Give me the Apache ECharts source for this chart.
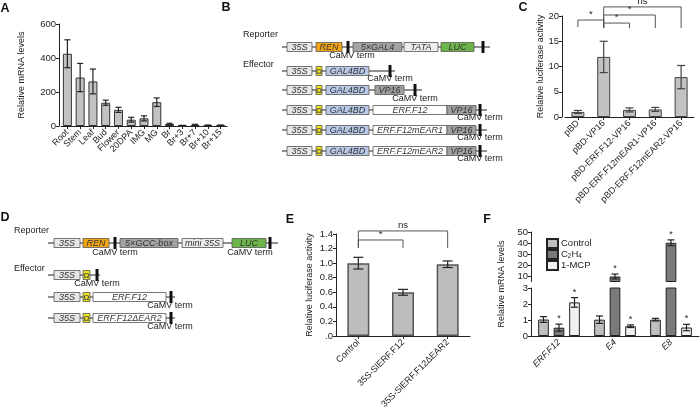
<!DOCTYPE html>
<html><head><meta charset="utf-8">
<script src="https://cdn.jsdelivr.net/npm/echarts@6/dist/echarts.min.js"></script>
<style>html,body{margin:0;padding:0;background:#fff}#c{width:700px;height:413px}</style>
</head><body><div id="c"></div>
<script>
// ---------- Panel A data ----------
const aCats = ['Root','Stem','Leaf','Bud','Flower','20DPA','IMG','MG','Br','Br+3','Br+7','Br+10','Br+15'];
const aVals = [425, 285, 262, 137, 95, 37, 45, 140, 12, 3, 7, 4, 4];
const aErr  = [82, 83, 73, 15, 15, 14, 15, 25, 4, 1, 3, 2, 2];
// ---------- Panel C data ----------
const cCats = ['pBD','pBD-VP16','pBD-ERF.F12-VP16','pBD-ERF.F12mEAR1-VP16','pBD-ERF.F12mEAR2-VP16'];
const cVals = [1.0, 11.9, 1.4, 1.5, 7.9];
const cErr  = [0.3, 3.1, 0.4, 0.4, 2.3];
const cSigPairs = [[0,1,19.2,17.8],[1,2,18.6,17.6],[1,3,20.2,17.6],[1,4,21.8,17.6]];
const cSigLabels = ['*','*','*','ns'];
// ---------- Panel E data ----------
const eCats = ['Control','35S-SlERF.F12','35S-SlERF.F12\u0394EAR2'];
const eVals = [1.0, 0.6, 0.985];
const eErr  = [0.08, 0.04, 0.045];
const eSigPairs = [[0,2,1.442,1.208],[0,1,1.318,1.208]];
const eSigLabels = ['ns','*'];
// ---------- Panel F data ----------
const fCats = ['ERF.F12','E4','E8'];
const fSeries = ['Control','C2H4','1-MCP'];
const fControl = [1.03, 1.02, 1.02];
const fControlErr = [0.18, 0.23, 0.08];
const fC2H4 = [0.52, 10.0, 40.3];
const fC2H4Err = [0.22, 2.2, 2.6];
const fMCP = [2.1, 0.61, 0.53];
const fMCPErr = [0.3, 0.08, 0.2];
const fStar = [[0,0,0],[1,1,1],[1,1,1]];

// ---------- styles ----------
const FONT = 'Liberation Sans, Arial, sans-serif';
const TXT = '#222';
const TICK_FS = 9.5;

function yAxisBase(gridIndex, extra) {
  return Object.assign({
    type: 'value', gridIndex,
    axisLine: {show: true, lineStyle: {color: '#222', width: 1}},
    axisTick: {show: true, length: 3, lineStyle: {color: '#222'}},
    axisLabel: {fontSize: TICK_FS, color: TXT, fontFamily: FONT, margin: 3},
    splitLine: {show: false},
    nameTextStyle: {fontSize: 9, color: TXT, fontFamily: FONT}
  }, extra);
}
function xAxisBase(gridIndex, data, extra) {
  return Object.assign({
    type: 'category', gridIndex, data,
    axisLine: {show: true, lineStyle: {color: '#222', width: 1}},
    axisTick: {show: true, length: 3, alignWithLabel: true, lineStyle: {color: '#222'}},
    axisLabel: {fontSize: 9, color: TXT, fontFamily: FONT, rotate: 45, margin: 5, interval: 0},
    splitLine: {show: false}
  }, extra);
}

function errSeries(xi, yi, vals, errs, off, cap, color, stars, keep) {
  const data = [];
  vals.forEach((v, i) => { if (!keep || keep(v)) data.push([i, v, errs[i], stars ? stars[i] : 0]); });
  return {
    type: 'custom', xAxisIndex: xi, yAxisIndex: yi, data, z: 10, silent: true, clip: false,
    renderItem: (params, api) => {
      const i = api.value(0), v = api.value(1), e = api.value(2), s = api.value(3);
      const x = api.coord([i, v])[0] + off;
      const t = api.coord([i, v + e])[1], b = api.coord([i, v - e])[1];
      const ls = {stroke: color, lineWidth: 1.2};
      const ch = [
        {type: 'line', shape: {x1: x, y1: t, x2: x, y2: b}, style: ls},
        {type: 'line', shape: {x1: x - cap, y1: t, x2: x + cap, y2: t}, style: ls},
        {type: 'line', shape: {x1: x - cap, y1: b, x2: x + cap, y2: b}, style: ls}
      ];
      if (s) ch.push({type: 'text', style: {text: '*', x: x, y: t - 1, fill: TXT, fontSize: 9, fontFamily: FONT, align: 'center', verticalAlign: 'bottom'}});
      return {type: 'group', children: ch};
    }
  };
}

function sigSeries(xi, yi, pairs, labels, color) {
  return {
    type: 'custom', xAxisIndex: xi, yAxisIndex: yi, data: pairs, z: 10, silent: true, clip: false,
    renderItem: (params, api) => {
      const p1 = api.coord([api.value(0), api.value(2)]);
      const p2 = api.coord([api.value(1), api.value(2)]);
      const yl = api.coord([api.value(0), api.value(3)])[1];
      return {type: 'group', children: [
        {type: 'polyline', shape: {points: [[p1[0], yl], [p1[0], p1[1]], [p2[0], p1[1]], [p2[0], yl]]}, style: {stroke: color, lineWidth: 1, fill: null}},
        {type: 'text', style: {text: labels[params.dataIndex], x: (p1[0] + p2[0]) / 2, y: p1[1] - 0.5, fill: TXT, fontSize: 9.5, fontFamily: FONT, align: 'center', verticalAlign: 'bottom'}}
      ]};
    }
  };
}

// ---------- Diagram layouts (schematic construct drawings) ----------
const COL = {p35s: '#e6e6e6', ren: '#f3a514', gal4: '#a3a3a3', tata: '#ececec', luc: '#6db54a', bd: '#b8c9e7', vp16: '#a0a0a0', erf: '#ffffff', omega: '#efe41a', gcc: '#a3a3a3', mini: '#ececec'};
const diagB = {
  labels: [['Reporter', 243, 35], ['Effector', 243, 65]],
  rows: [
    {y: 47, line: [282, 490], boxes: [['35S',287,312,'p35s'],['REN',316,342,'ren'],['5\u00d7GAL4',353,402,'gal4'],['TATA',404,438,'tata'],['LUC',441,474,'luc']], terms: [348, 483], notes: [[352, 56]]},
    {y: 71, line: [282, 395], boxes: [['35S',287,312,'p35s'],['\u03a9',316,322,'omega'],['GAL4BD',326,369,'bd']], terms: [390], notes: [[390, 79]]},
    {y: 90, line: [282, 422], boxes: [['35S',287,312,'p35s'],['\u03a9',316,322,'omega'],['GAL4BD',326,369,'bd'],['VP16',375,404,'vp16']], terms: [415], notes: [[415, 99]]},
    {y: 110, line: [282, 487], boxes: [['35S',287,312,'p35s'],['\u03a9',316,322,'omega'],['GAL4BD',326,369,'bd'],['ERF.F12',373,447,'erf'],['VP16',447,476,'vp16']], terms: [480], notes: [[480, 118]]},
    {y: 130, line: [282, 487], boxes: [['35S',287,312,'p35s'],['\u03a9',316,322,'omega'],['GAL4BD',326,369,'bd'],['ERF.F12mEAR1',373,447,'erf'],['VP16',447,476,'vp16']], terms: [480], notes: [[480, 138]]},
    {y: 151, line: [282, 487], boxes: [['35S',287,312,'p35s'],['\u03a9',316,322,'omega'],['GAL4BD',326,369,'bd'],['ERF.F12mEAR2',373,447,'erf'],['VP16',447,476,'vp16']], terms: [480], notes: [[480, 159]]}
  ]
};
const diagD = {
  labels: [['Reporter', 14, 231], ['Effector', 14, 269]],
  rows: [
    {y: 243, line: [48, 278], boxes: [['35S',54,80,'p35s'],['REN',83,109,'ren'],['5\u00d7GCC-box',120,178,'gcc'],['mini 35S',182,223,'mini'],['LUC',232,266,'luc']], terms: [115, 270], notes: [[115, 253], [250, 253]]},
    {y: 275, line: [48, 100], boxes: [['35S',54,80,'p35s'],['\u03a9',83,90,'omega']], terms: [97], notes: [[97, 284]]},
    {y: 297, line: [48, 175], boxes: [['35S',54,80,'p35s'],['\u03a9',83,90,'omega'],['ERF.F12',93,166,'erf']], terms: [171], notes: [[170, 306]]},
    {y: 318, line: [48, 175], boxes: [['35S',54,80,'p35s'],['\u03a9',83,90,'omega'],['ERF.F12\u0394EAR2',93,166,'erf']], terms: [171], notes: [[170, 327]]}
  ]
};
function diagramElements(d) {
  const els = [];
  d.labels.forEach(l => els.push({type: 'text', style: {text: l[0], x: l[1], y: l[2], fill: TXT, fontSize: 9, fontFamily: FONT, align: 'left', verticalAlign: 'middle'}}));
  d.rows.forEach(r => {
    els.push({type: 'line', shape: {x1: r.line[0], y1: r.y, x2: r.line[1], y2: r.y}, style: {stroke: '#222', lineWidth: 1}});
    r.boxes.forEach(b => {
      const om = b[3] === 'omega';
      els.push({type: 'rect', shape: {x: b[1], y: r.y - 4.5, width: b[2] - b[1], height: 9}, style: {fill: COL[b[3]], stroke: '#555', lineWidth: 0.8}});
      els.push({type: 'text', style: {text: b[0], x: (b[1] + b[2]) / 2, y: r.y + 0.5, fill: om ? '#555' : '#333', fontSize: om ? 8 : 9, fontWeight: om ? 'bold' : 'normal', fontStyle: om ? 'normal' : 'italic', fontFamily: FONT, align: 'center', verticalAlign: 'middle'}});
    });
    r.terms.forEach(t => els.push({type: 'rect', shape: {x: t - 1.5, y: r.y - 6, width: 3, height: 12}, style: {fill: '#111'}}));
    r.notes.forEach(n => els.push({type: 'text', style: {text: 'CaMV term', x: n[0], y: n[1], fill: TXT, fontSize: 9, fontFamily: FONT, align: 'center', verticalAlign: 'middle'}}));
  });
  return els;
}
const panelLetters = [['A', 5, 9], ['B', 226, 8], ['C', 523, 8], ['D', 5, 218], ['E', 290, 220], ['F', 487, 220]];

const graphics = [].concat(diagramElements(diagB), diagramElements(diagD));
panelLetters.forEach(p => graphics.push({type: 'text', style: {text: p[0], x: p[1], y: p[2], fill: '#111', fontSize: 12.5, fontWeight: 'bold', fontFamily: FONT, align: 'center', verticalAlign: 'middle'}}));
graphics.push({type: 'text', rotation: Math.PI / 2, x: 502, y: 284, style: {text: 'Relative mRNA levels', x: 0, y: 0, fill: TXT, fontSize: 9, fontFamily: FONT, align: 'center', verticalAlign: 'middle'}});

const fColors = ['#bfbfbf', '#7a7a7a', '#f0f0f0'];
const fVals = [fControl, fC2H4, fMCP];
const fErrs = [fControlErr, fC2H4Err, fMCPErr];
const fOff = [-15.5, 0, 15.5];

const series = [
  // A
  {type: 'bar', xAxisIndex: 0, yAxisIndex: 0, data: aVals, barWidth: 9, itemStyle: {color: '#c2c2c2', borderColor: '#333', borderWidth: 1}, silent: true},
  errSeries(0, 0, aVals, aErr, 0, 3, '#222'),
  // C
  {type: 'bar', xAxisIndex: 1, yAxisIndex: 1, data: cVals, barWidth: 13, itemStyle: {color: '#c2c2c2', borderColor: '#444', borderWidth: 1}, silent: true},
  errSeries(1, 1, cVals, cErr, 0, 4, '#444'),
  sigSeries(1, 1, cSigPairs, cSigLabels, '#555'),
  // E
  {type: 'bar', xAxisIndex: 2, yAxisIndex: 2, data: eVals, barWidth: 22, itemStyle: {color: '#bdbdbd', borderColor: '#555', borderWidth: 1.5}, silent: true},
  errSeries(2, 2, eVals, eErr, 0, 5, '#222'),
  sigSeries(2, 2, eSigPairs, eSigLabels, '#555')
];
// F: lower (0-3) and upper (broken) grids
fSeries.forEach((name, k) => {
  series.push({type: 'bar', name, xAxisIndex: 4, yAxisIndex: 4, data: fVals[k], barWidth: 10.7, barGap: '45%', itemStyle: {color: fColors[k], borderColor: '#222', borderWidth: 1}, silent: true});
  series.push({type: 'bar', name, xAxisIndex: 3, yAxisIndex: 3, data: fVals[k].map(v => v > 3 ? v : '-'), barWidth: 10.7, barGap: '45%', itemStyle: {color: fColors[k], borderColor: '#222', borderWidth: 1}, silent: true});
  series.push(errSeries(4, 4, fVals[k], fErrs[k], fOff[k], 3.5, '#222', fStar[k], v => v <= 3));
  series.push(errSeries(3, 3, fVals[k], fErrs[k], fOff[k], 3.5, '#222', fStar[k], v => v > 3));
});

const option = {
  animation: false,
  backgroundColor: '#fff',
  textStyle: {fontFamily: FONT},
  grid: [
    {left: 61, top: 24, width: 166, height: 102},
    {left: 565, top: 16, width: 129, height: 101},
    {left: 336, top: 234, width: 134, height: 102},
    {left: 531, top: 232, width: 168, height: 49.5},
    {left: 531, top: 288, width: 168, height: 48}
  ],
  xAxis: [
    xAxisBase(0, aCats),
    xAxisBase(1, cCats),
    xAxisBase(2, eCats),
    xAxisBase(3, fCats, {show: false}),
    xAxisBase(4, fCats, {axisTick: {show: false}, axisLabel: {fontSize: 9, color: TXT, fontFamily: FONT, rotate: 45, margin: 5, interval: 0, fontStyle: 'italic'}})
  ],
  yAxis: [
    yAxisBase(0, {min: 0, max: 600, interval: 200, offset: 2, name: 'Relative mRNA levels', nameLocation: 'middle', nameGap: 33}),
    yAxisBase(1, {min: 0, max: 20, interval: 5, offset: 3, name: 'Relative luciferase activity', nameLocation: 'middle', nameGap: 9}),
    yAxisBase(2, {min: 0, max: 1.4, interval: 0.2, name: 'Relative luciferase activity', nameLocation: 'middle', nameGap: 22,
      axisLabel: {fontSize: TICK_FS, color: TXT, fontFamily: FONT, margin: 3, formatter: v => v === 0 ? '.0' : v.toFixed(1)}}),
    yAxisBase(3, {min: 5.5, max: 50, axisLabel: {fontSize: TICK_FS, color: TXT, fontFamily: FONT, margin: 3, customValues: [10, 20, 30, 40, 50]}, axisTick: {show: true, length: 3, customValues: [10, 20, 30, 40, 50], lineStyle: {color: '#222'}}}),
    yAxisBase(4, {min: 0, max: 3, interval: 1})
  ],
  legend: {
    data: fSeries, orient: 'vertical', left: 546, top: 238, padding: 0, itemWidth: 11, itemHeight: 9, itemGap: 0,
    icon: 'rect', selectedMode: false,
    textStyle: {fontSize: 9.5, lineHeight: 10, color: TXT, fontFamily: FONT, padding: [0, 0, 0, -2], rich: {s: {fontSize: 6.5, lineHeight: 10, color: TXT, padding: [4, 0, 0, 0]}}},
    formatter: n => n === 'C2H4' ? 'C{s|2}H{s|4}' : n
  },
  graphic: {elements: graphics},
  series
};
const chart = echarts.init(document.getElementById('c'), null, {renderer: 'canvas'});
chart.setOption(option);
</script></body></html>
